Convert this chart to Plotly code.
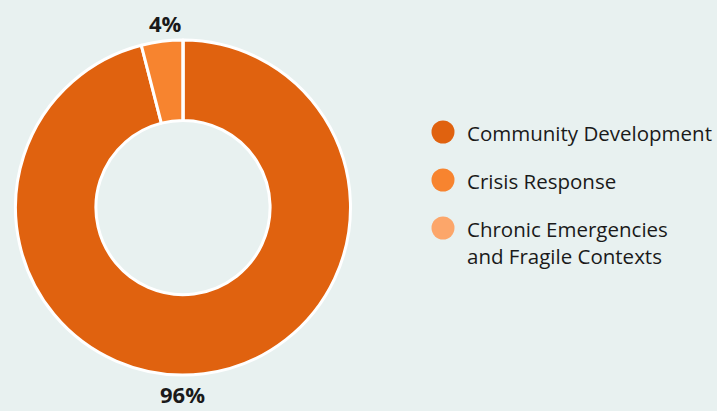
import plotly.graph_objects as go

# Share of funding by programme area
categories = ["Community Development", "Crisis Response", "Chronic Emergencies\nand Fragile Contexts"]
values = [96, 4, 0]
colors = ["#e0620f", "#f7842f", "#fca66a"]

W, H = 717, 411
BG = "#e8f1f0"
TEXT = "#1a1a1a"


def px(x):
    return x / W


def py(y):
    return 1 - y / H


fig = go.Figure()

fig.add_trace(go.Pie(
    labels=categories,
    values=values,
    sort=False,
    direction="clockwise",
    rotation=0,
    hole=0.52,
    marker=dict(colors=colors, line=dict(color="white", width=3)),
    textinfo="none",
    hoverinfo="label+percent",
    showlegend=False,
    domain=dict(x=[px(15), px(351)], y=[py(375), py(40)]),
))

# Percentage labels outside the ring
label_pos = [(182.5, 394), (165, 23)]
for (x, y), v in zip(label_pos, values[:2]):
    fig.add_annotation(
        x=px(x), y=py(y), xref="paper", yref="paper",
        text=f"<b>{v}%</b>", showarrow=False,
        xanchor="center", yanchor="middle", borderpad=0,
        font=dict(family="Open Sans", size=22, color=TEXT),
    )

# Legend with round swatches
legend_y = [132, 180, 228]
for cat, col, y in zip(categories, colors, legend_y):
    r = 11.5
    fig.add_shape(
        type="circle", xref="paper", yref="paper",
        x0=px(443 - r), x1=px(443 + r), y0=py(y + r), y1=py(y - r),
        fillcolor=col, line=dict(width=0),
    )
    fig.add_annotation(
        x=px(465), y=py(y - 15), xref="paper", yref="paper",
        text=cat.replace("\n", "<br>"), showarrow=False,
        xanchor="left", yanchor="top", align="left",
        font=dict(family="Open Sans", size=20.5, color=TEXT),
    )

fig.update_layout(
    width=W, height=H,
    margin=dict(l=0, r=0, t=0, b=0),
    paper_bgcolor=BG, plot_bgcolor=BG,
)

fig.write_html("out.html")
